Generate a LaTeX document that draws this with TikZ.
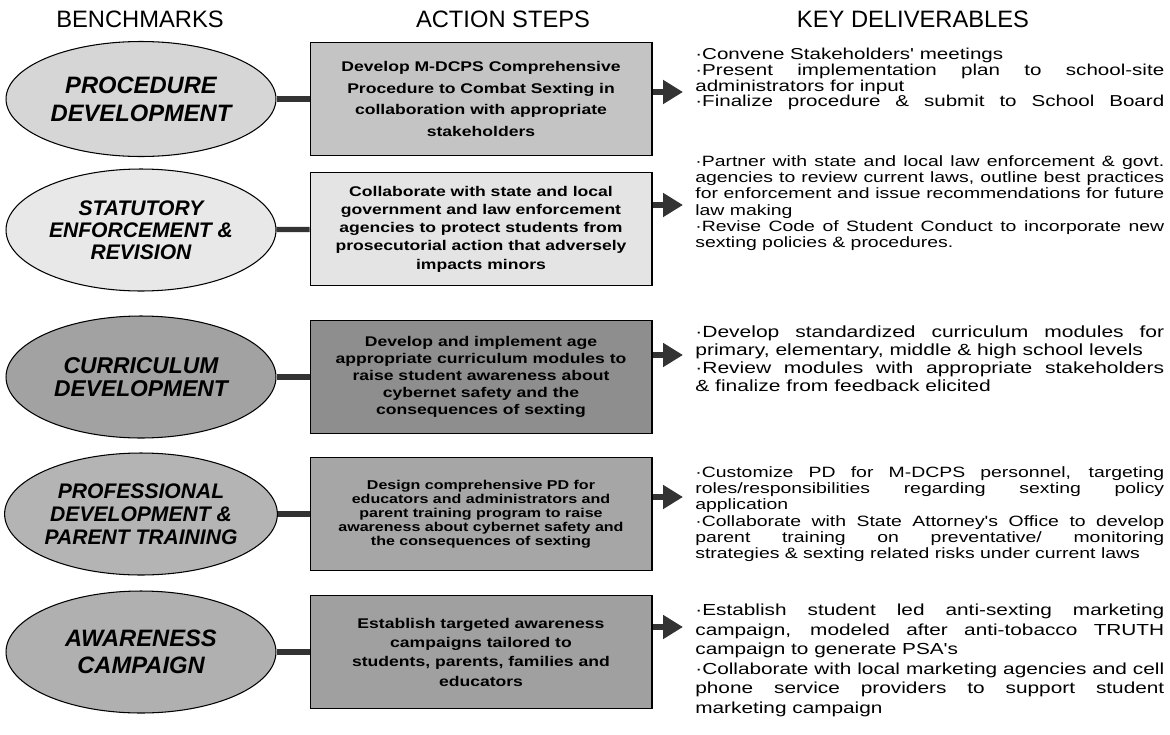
\documentclass[tikz,border=0pt]{standalone}
\usepackage{fontspec}
\setmainfont{Liberation Sans}
\newfontfamily\delivfont{Liberation Sans}[FakeStretch=1.3]
\newfontfamily\actfont{Liberation Sans}[FakeStretch=1.25]
\usetikzlibrary{arrows.meta, shapes.geometric}
\definecolor{linkgray}{HTML}{333333}
\definecolor{benchA}{HTML}{D6D6D6}
\definecolor{benchB}{HTML}{E8E8E8}
\definecolor{benchC}{HTML}{A2A2A2}
\definecolor{benchD}{HTML}{B4B4B4}
\definecolor{benchE}{HTML}{B0B0B0}
\definecolor{actA}{HTML}{C4C4C4}
\definecolor{actB}{HTML}{E4E4E4}
\definecolor{actC}{HTML}{8E8E8E}
\definecolor{actD}{HTML}{A6A6A6}
\definecolor{actE}{HTML}{A0A0A0}
\hyphenpenalty=10000
\exhyphenpenalty=10000
\tolerance=9999
\tikzset{
  head/.style={font=\fontsize{13.5}{15}\selectfont},
  bench/.style={ellipse, draw=black, line width=0.6pt, minimum width=5.4cm,
    minimum height=2.44cm, inner sep=0pt, align=center,
    font=\fontsize{13.5}{16}\selectfont\bfseries\itshape},
  action/.style={rectangle, draw=black, line width=0.6pt, minimum width=6.84cm,
    minimum height=2.26cm, inner sep=1pt, align=center,
    font=\actfont\fontsize{8}{11}\selectfont\bfseries},
  deliv/.style={anchor=north west, text width=9.38cm, align=justify, inner sep=0pt,
    font=\delivfont\fontsize{8.5}{9.3}\selectfont},
  link/.style={line width=3pt, color=linkgray},
  push/.style={-{Triangle[length=4mm, width=4.6mm]}, line width=1.2mm, color=linkgray}
}

\begin{document}
\begin{tikzpicture}[x=0.02cm, y=-0.02cm]
\useasboundingbox (0,0) rectangle (1170,734);
% column heads
\node[head] (hbench) at (140,19) {BENCHMARKS};
\node[head] (hact) at (503,19) {ACTION STEPS};
\node[head] (hkey) at (913,19) {KEY DELIVERABLES};

% benchmarks
\node[bench, fill=benchA, minimum height=2.3cm] (bench1) at (141,99) {PROCEDURE\\DEVELOPMENT};
\node[bench, fill=benchB, font=\fontsize{12}{12.5}\selectfont\bfseries\itshape] (bench2) at (141,230) {STATUTORY\\ENFORCEMENT \&\\REVISION};
\node[bench, fill=benchC, font=\fontsize{13}{13.5}\selectfont\bfseries\itshape] (bench3) at (141,377) {CURRICULUM\\DEVELOPMENT};
\node[bench, fill=benchD, font=\fontsize{12}{13}\selectfont\bfseries\itshape] (bench4) at (141,514) {PROFESSIONAL\\DEVELOPMENT \&\\PARENT TRAINING};
\node[bench, fill=benchE, font=\fontsize{13.5}{15.4}\selectfont\bfseries\itshape] (bench5) at (141,652) {AWARENESS\\CAMPAIGN};

% action steps
\node[action, fill=actA, font=\actfont\fontsize{8}{12.3}\selectfont\bfseries] (act1) at (481,99) {Develop M-DCPS Comprehensive\\Procedure to Combat Sexting in\\collaboration with appropriate\\stakeholders};
\node[action, fill=actB, font=\actfont\fontsize{8}{10.4}\selectfont\bfseries] (act2) at (481,229) {Collaborate with state and local\\government and law enforcement\\agencies to protect students from\\prosecutorial action that adversely\\impacts minors};
\node[action, fill=actC, font=\actfont\fontsize{8}{9.7}\selectfont\bfseries] (act3) at (481,377) {Develop and implement age\\appropriate curriculum modules to\\raise student awareness about\\cybernet safety and the\\consequences of sexting};
\node[action, fill=actD, font=\actfont\fontsize{7.3}{8}\selectfont\bfseries] (act4) at (481,514) {Design comprehensive PD for\\educators and administrators and\\parent training program to raise\\awareness about cybernet safety and\\the consequences of sexting};
\node[action, fill=actE, font=\actfont\fontsize{8}{11}\selectfont\bfseries] (act5) at (481,652) {Establish targeted awareness\\campaigns tailored to\\students, parents, families and\\educators};

% key deliverables
\node[deliv, font=\delivfont\fontsize{9}{8.9}\selectfont] (key1) at (695,48) {·Convene Stakeholders' meetings\par
·Present implementation plan to school-site\linebreak administrators for input\par
·Finalize procedure \& submit to School Board{\parfillskip=0pt\par}};
\node[deliv] (key2) at (695,155) {·Partner with state and local law enforcement \& govt.\linebreak agencies to review current laws, outline best practices\linebreak for enforcement and issue recommendations for future\linebreak law making\par
·Revise Code of Student Conduct to incorporate new\linebreak sexting policies \& procedures.};
\node[deliv, font=\delivfont\fontsize{9.2}{10.4}\selectfont] (key3) at (695,325) {·Develop standardized curriculum modules for\linebreak primary, elementary, middle \& high school levels\par
·Review modules with appropriate stakeholders\linebreak \& finalize from feedback elicited};
\node[deliv] (key4) at (695,466) {·Customize PD for M-DCPS personnel, targeting\linebreak roles/responsibilities regarding sexting policy\linebreak application\par
·Collaborate with State Attorney's Office to develop\linebreak parent training on preventative/ monitoring\linebreak strategies \& sexting related risks under current laws};
\node[deliv, font=\delivfont\fontsize{9.1}{11.1}\selectfont] (key5) at (695,604) {·Establish student led anti-sexting marketing\linebreak campaign, modeled after anti-tobacco TRUTH\linebreak campaign to generate PSA's\par
·Collaborate with local marketing agencies and cell\linebreak phone service providers to support student\linebreak marketing campaign};

% arrow tips
\coordinate (tip1) at (683,92);
\coordinate (tip2) at (683,205);
\coordinate (tip3) at (683,355);
\coordinate (tip4) at (683,497);
\coordinate (tip5) at (683,627);

% connectors
\draw[link] (bench1) -- (act1);
\draw[link] (bench2) -- (act2);
\draw[link] (bench3) -- (act3);
\draw[link] (bench4) -- (act4);
\draw[link] (bench5) -- (act5);
\draw[push] (act1.east |- tip1) -- (tip1);
\draw[push] (act2.east |- tip2) -- (tip2);
\draw[push] (act3.east |- tip3) -- (tip3);
\draw[push] (act4.east |- tip4) -- (tip4);
\draw[push] (act5.east |- tip5) -- (tip5);
\end{tikzpicture}
\end{document}
